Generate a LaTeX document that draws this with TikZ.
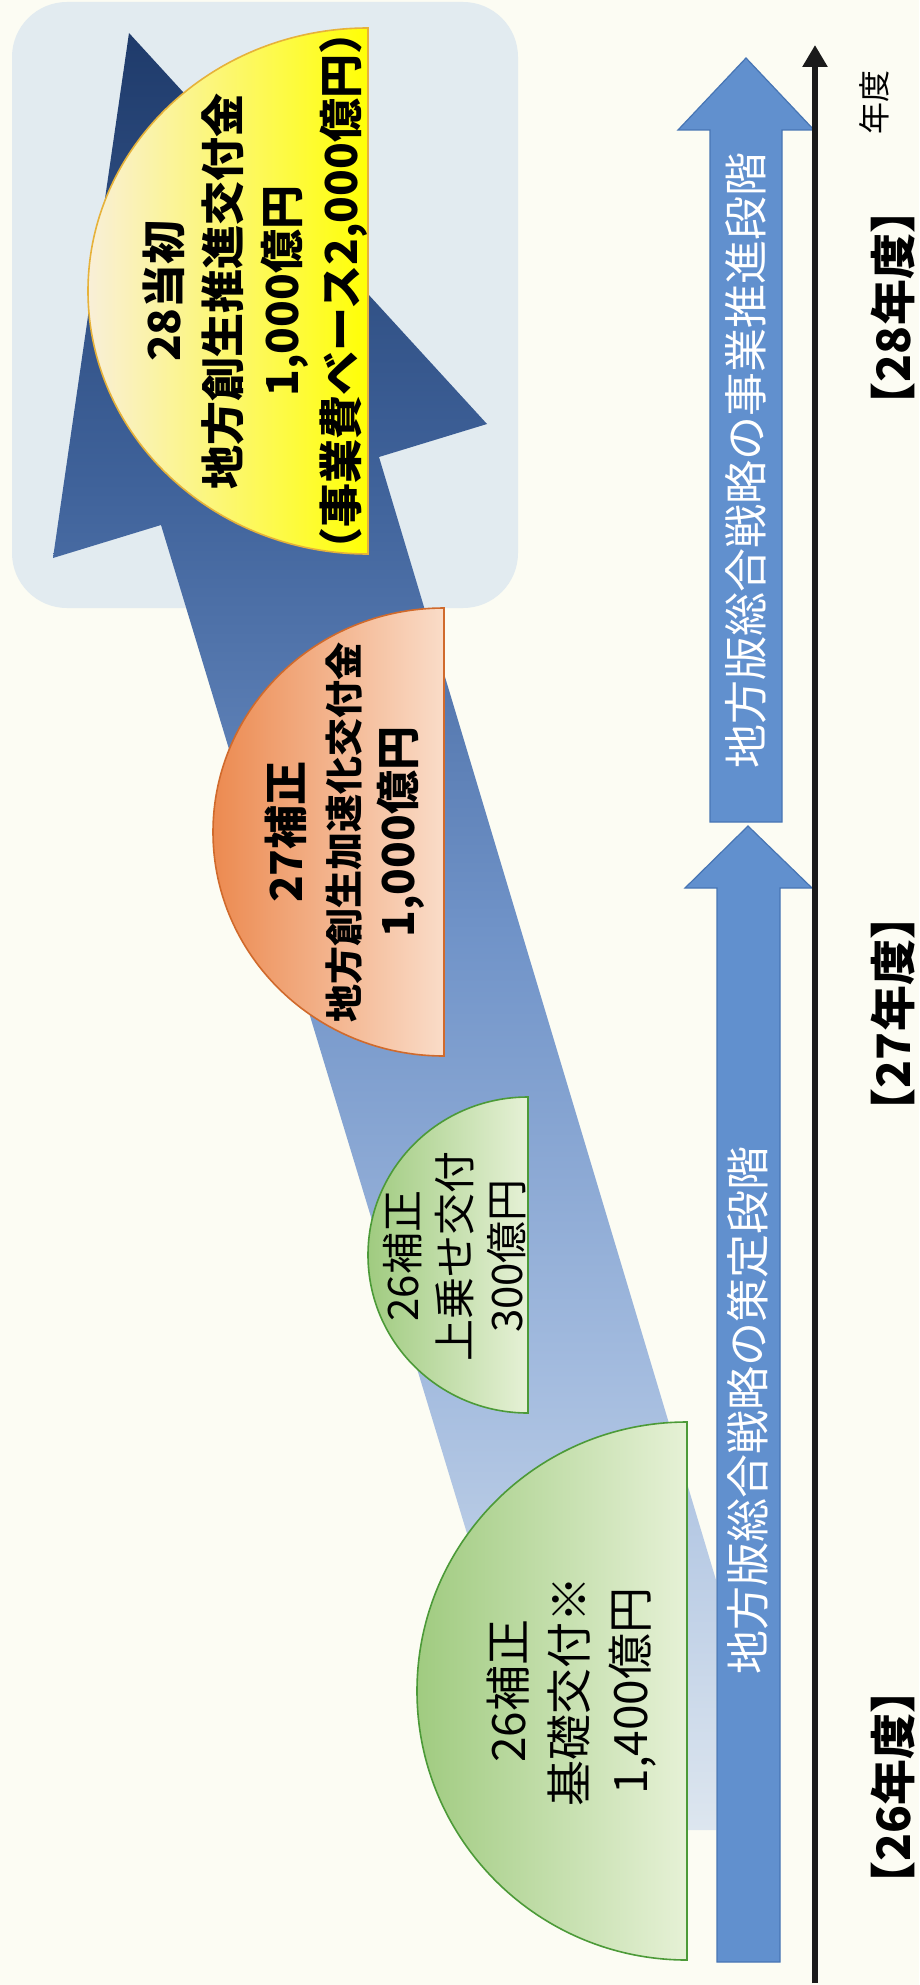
\documentclass[tikz,border=0pt]{standalone}
\usepackage{fontspec}
\setmainfont{Noto Sans CJK JP}
\usetikzlibrary{arrows.meta}
\definecolor{paper}{HTML}{FCFCF3}
\definecolor{skyback}{HTML}{E2EBF0}
\definecolor{arrowdark}{HTML}{1F3B6B}
\definecolor{arrowhigh}{HTML}{3F629A}
\definecolor{arrowmid}{HTML}{7093C8}
\definecolor{arrowlow}{HTML}{A4BCDF}
\definecolor{arrowpale}{HTML}{DDE6EF}
\definecolor{yelpale}{HTML}{F9EFD8}
\definecolor{yelmid}{HTML}{FBF3BE}
\definecolor{yelhot}{HTML}{FFFF05}
\definecolor{yeledge}{HTML}{E6B23A}
\definecolor{orgdeep}{HTML}{EC8A50}
\definecolor{orgmid}{HTML}{F6C3A4}
\definecolor{orgpale}{HTML}{FADCC8}
\definecolor{orgedge}{HTML}{D06A2C}
\definecolor{grndeep}{HTML}{A0CB80}
\definecolor{grnpale}{HTML}{E6F1D6}
\definecolor{grnedge}{HTML}{4C9A38}
\definecolor{barblue}{HTML}{6190CE}
\definecolor{baredge}{HTML}{4775B4}
\definecolor{axisblack}{HTML}{1A1A1A}
\pgfdeclareverticalshading{risearrow}{100bp}{color(0bp)=(arrowpale); color(25bp)=(arrowpale);
	color(37.5bp)=(arrowlow); color(50bp)=(arrowmid); color(62.5bp)=(arrowhigh);
	color(75bp)=(arrowdark); color(100bp)=(arrowdark)}
\newcommand{\fs}[2]{\fontsize{#1}{#2}\selectfont}
\begin{document}
\begin{tikzpicture}[>={Triangle[length=22pt,width=24pt]},x=1pt,y=-1pt,
	halfdisc/.style={line width=1.6pt},
	inner/.style={rotate=90,align=center,inner sep=0pt},
	stagebox/.style={fill=barblue,draw=baredge,line width=1.2pt},
	yearlbl/.style={rotate=90,inner sep=0pt,font=\bfseries\fs{46}{46}}]
	\useasboundingbox (0,0) rectangle (919,1985);
	\fill[paper] (0,0) rectangle (919,1985);
	\fill[skyback,rounded corners=55pt] (12,2) rectangle (518,608);
	% big rising arrow
	\shade[shading=risearrow]
		(129,33) -- (53,558) -- (161,525) -- (557,1830) -- (716,1830) -- (716,1580) -- (379,457) -- (487,424) -- cycle;
	% half discs
	\draw[halfdisc,draw=yeledge,left color=yelpale,middle color=yelmid,right color=yelhot]
		(368,554) arc[start angle=90,end angle=270,x radius=280,y radius=263] -- cycle;
	\draw[halfdisc,draw=orgedge,left color=orgdeep,middle color=orgmid,right color=orgpale]
		(444,1056) arc[start angle=90,end angle=270,x radius=231,y radius=224] -- cycle;
	\draw[halfdisc,draw=grnedge,left color=grndeep,right color=grnpale]
		(528,1413) arc[start angle=90,end angle=270,x radius=160,y radius=158] -- cycle;
	\draw[halfdisc,draw=grnedge,left color=grndeep,right color=grnpale]
		(687,1960) arc[start angle=90,end angle=270,x radius=270,y radius=269] -- cycle;
	% stage arrows
	\draw[stagebox] (710,822) -- (710,130) -- (678,130) -- (746,58) -- (814,130) -- (782,130) -- (782,822) -- cycle;
	\draw[stagebox] (717,1962) -- (717,888) -- (685,888) -- (748,826) -- (812,888) -- (780,888) -- (780,1962) -- cycle;
	% time axis
	\coordinate (axb) at (815,1983);
	\coordinate (axt) at (815,45);
	\draw[->,line width=6.5pt,axisblack] (axb) -- (axt);
	% texts
	\node[inner,font=\bfseries\fs{44}{59}] (y28) at (255,291) {28当初\\地方創生推進交付金\\1,000億円\\（事業費ベース2,000億円）};
	\node[inner,font=\bfseries\fs{44}{56}] (h27) at (345,832) {27補正\\{\fs{38}{56}地方創生加速化交付金}\\1,000億円};
	\node[inner,font=\fs{42}{52}] (h26b) at (455,1256) {26補正\\上乗せ交付\\300億円};
	\node[inner,font=\fs{46}{61}] (h26a) at (572,1691) {26補正\\基礎交付※\\1,400億円};
	\node[inner,text=white,font=\fs{44}{44}] (stage2) at (746,460) {地方版総合戦略の事業推進段階};
	\node[inner,text=white,font=\fs{44}{44}] (stage1) at (748,1410) {地方版総合戦略の策定段階};
	\node[rotate=90,inner sep=0pt,font=\fs{32}{32}] (unit) at (874,103) {年度};
	\node[yearlbl] (fy28) at (893,308) {【28年度】};
	\node[yearlbl] (fy27) at (893,1014) {【27年度】};
	\node[yearlbl] (fy26) at (893,1787) {【26年度】};
\end{tikzpicture}
\end{document}
